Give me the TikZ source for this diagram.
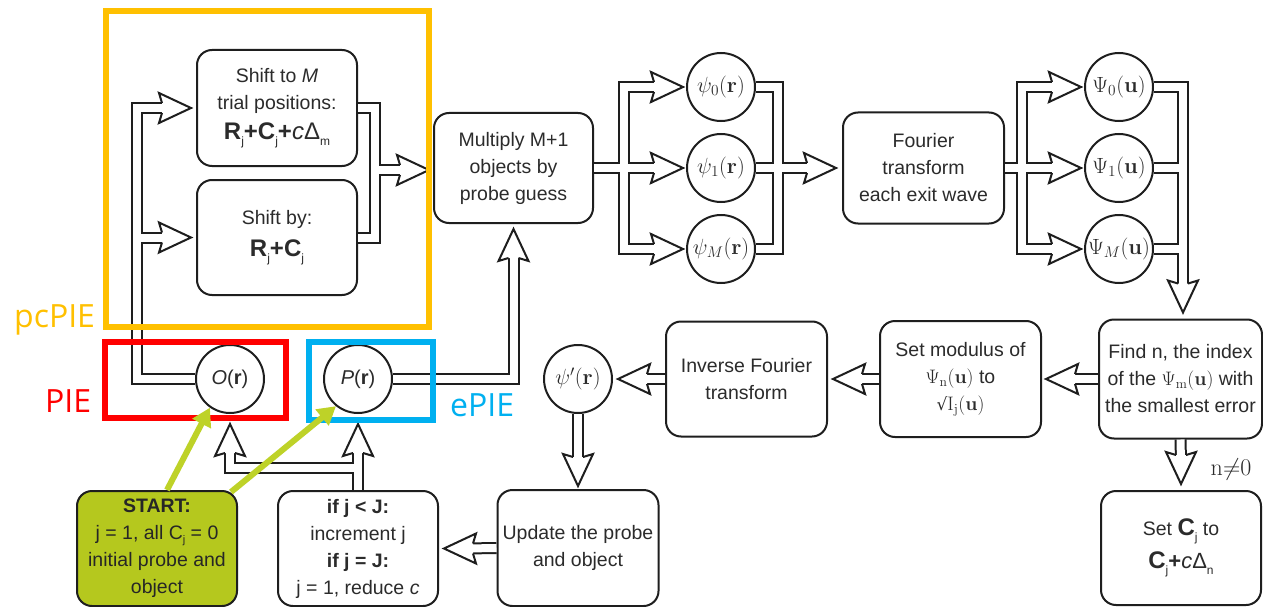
\RequirePackage{fix-cm}
\documentclass[tikz,border=0pt]{standalone}
\usepackage[no-math]{fontspec}
\usepackage{graphicx}
\setmainfont{Liberation Sans}
\newfontfamily\labelfont{Open Sans}
\newfontfamily\surdfont{DejaVu Serif}
\usetikzlibrary{calc,arrows.meta}
\definecolor{ylw}{HTML}{FFC000}
\definecolor{rd}{HTML}{FF0000}
\definecolor{bl}{HTML}{00B0F0}
\definecolor{grnfill}{RGB}{181,200,30}
\definecolor{grnarr}{RGB}{190,210,40}
\definecolor{txt}{HTML}{2B2B2B}
\definecolor{ln}{HTML}{1E1E1E}
\newcommand\pipe[1]{\draw[line width=12pt,ln] #1; \draw[line width=8pt,white] #1;}
\newcommand\subL[1]{\raisebox{-6pt}{\fontsize{12}{12}\selectfont\mdseries\upshape #1}}
\newcommand\subN[1]{\raisebox{-4pt}{\fontsize{11}{11}\selectfont #1}}
\newcommand\bigf{\fontsize{24}{28}\selectfont}
\begin{document}
\begin{tikzpicture}[x=1pt,y=-1pt,
  procbox/.style={draw=ln, line width=2pt, rounded corners=15pt, align=center, text=txt,
    inner sep=0pt, font=\fontsize{19.5}{27}\selectfont, minimum width=160pt, minimum height=115pt},
  ccirc/.style={circle, draw=ln, line width=2pt, minimum size=68pt, inner sep=0pt, text=txt,
    font=\fontsize{20}{24}\selectfont},
  mcirc/.style={ccirc, font=\fontsize{22}{24}\selectfont},
  ahd/.pic={\draw[ln, line width=2pt, fill=white] (-29,5) -- (-32,15) -- (0,0) -- (-32,-15) -- (-29,-5);},
  anframe/.style={line width=6pt},
  lbl/.style={font=\labelfont\fontsize{32}{36}\selectfont, anchor=base west, inner sep=0pt},
  garr/.style={grnarr, line width=6pt, -{Triangle[length=18pt,width=20pt]}}]
\fill[white] (0,0) rectangle (1263,607);
\useasboundingbox (0,0) rectangle (1263,607);

% boxes
\node[procbox, minimum height=116pt] (shiftM) at (277,108) {Shift to \textit{M}\\ trial positions:\\[3pt]
  {\bigf\bfseries R\subL{j}+C\subL{j}+{\mdseries\itshape c}{\mdseries Δ}\subL{m}}};
\node[procbox] (shiftB) at (277,237.5) {Shift by:\\[5pt] {\bigf\bfseries R\subL{j}+C\subL{j}}};
\node[procbox, minimum width=159pt, minimum height=110pt] (mult) at (513.5,168) {Multiply M+1\\ objects by\\ probe guess};
\node[procbox, minimum width=161pt, minimum height=111pt] (four) at (923.5,168) {Fourier\\ transform\\ each exit wave};
\node[procbox, minimum width=163pt, minimum height=119pt] (findn) at (1180.5,379) {Find n, the index\\ of the $\Psi_{\mathrm{m}}(\mathbf{u})$ with\\ the smallest error};
\node[procbox, minimum width=161pt, minimum height=116pt] (setmod) at (960.5,379) {Set modulus of\\ $\Psi_{\mathrm{n}}(\mathbf{u})$ to\\ {\surdfont\fontsize{17}{20}\selectfont √}$\mathrm{I}_{\mathrm{j}}(\mathbf{u})$};
\node[procbox, minimum width=161pt] (invf) at (746.5,379) {Inverse Fourier\\ transform};
\node[procbox, minimum width=161pt, minimum height=116pt] (update) at (578,548) {Update the probe\\ and object};
\node[procbox] (ifbox) at (358,548.5) {\textbf{if j < J:}\\ increment j\\ \textbf{if j = J:}\\ j = 1, reduce \textit{c}};
\node[procbox, fill=grnfill, text=black!85] (start) at (157,548.5) {\textbf{START:}\\ j = 1, all C\subN{j} = 0\\ initial probe and\\ object};
\node[procbox, minimum height=114pt] (setC) at (1181,548) {Set {\bigf\bfseries C}\subL{j} to\\[6pt]
  {\bigf\bfseries C}\subL{j}{\fontsize{22}{26}\selectfont\bfseries +}{\fontsize{22}{26}\selectfont\itshape c}{\fontsize{22}{26}\selectfont Δ}\subL{n}};

% circles
\node[ccirc] (O) at (230,379) {\textit{O}(\textbf{r})};
\node[ccirc] (P) at (358,379) {\textit{P}(\textbf{r})};
\node[mcirc] (psi0) at (721,87) {$\psi_0(\mathbf{r})$};
\node[mcirc] (psi1) at (721,168) {$\psi_1(\mathbf{r})$};
\node[mcirc] (psiM) at (721,249) {$\psi_M(\mathbf{r})$};
\node[mcirc] (Psi0) at (1119,87) {$\Psi_0(\mathbf{u})$};
\node[mcirc] (Psi1) at (1119,168) {$\Psi_1(\mathbf{u})$};
\node[mcirc] (PsiM) at (1119,249) {$\Psi_M(\mathbf{u})$};
\node[mcirc] (psip) at (578,379) {$\psi'(\mathbf{r})$};
\node[text=txt, font=\fontsize{24}{24}\selectfont] (neq) at (1231,469) {$\mathrm{n}{\neq}0$};

% tips and columns
\coordinate (tSM) at ($(shiftM.west)+(-5,0)$);
\coordinate (tSB) at ($(shiftB.west)+(-5,0)$);
\coordinate (tM) at ($(mult.west)+(-4,2)$);
\coordinate (tMS) at ($(mult.south)+(0,5)$);
\coordinate (tO) at ($(O.south)+(0,10)$);
\coordinate (tP) at ($(P.south)+(0,10)$);
\coordinate (tp0) at ($(psi0.west)+(-3,0)$);
\coordinate (tp1) at ($(psi1.west)+(-3,0)$);
\coordinate (tpM) at ($(psiM.west)+(-3,0)$);
\coordinate (tF) at ($(four.west)+(-6,0)$);
\coordinate (tQ0) at ($(Psi0.west)+(-3,0)$);
\coordinate (tQ1) at ($(Psi1.west)+(-3,0)$);
\coordinate (tQM) at ($(PsiM.west)+(-3,0)$);
\coordinate (xA) at (137,0);
\coordinate (xB) at (375,0);
\coordinate (xE) at (623.5,0);
\coordinate (xF) at (778,0);
\coordinate (xG) at (1022,0);
\coordinate (xH) at (1183,0);
\coordinate (jD) at (358,468);
\coordinate (tH) at ($(xH |- findn.north)+(0,-6)$);
\coordinate (tI) at ($(setmod.east)+(4,0)$);
\coordinate (tJ) at ($(invf.east)+(5,0)$);
\coordinate (tK) at ($(psip.east)+(5,0)$);
\coordinate (tL) at ($(update.north)+(0,-3)$);
\coordinate (tMm) at ($(ifbox.east)+(5,0)$);
\coordinate (tN) at ($(setC.north)+(0,-6)$);

% pipes
\pipe{(O.west) -| (xA |- tSM) -- ($(tSM)+(-22,0)$) (xA |- tSB) -- ($(tSB)+(-22,0)$)}
\pipe{(shiftM.east) -| (xB |- shiftB.east) -- (shiftB.east) (xB |- tM) -- ($(tM)+(-22,0)$)}
\pipe{(P.east) -| ($(tMS)+(0,22)$)}
\pipe{(ifbox.north) -- ($(tP)+(0,22)$) (jD) -| ($(tO)+(0,22)$)}
\pipe{(mult.east) -- (xE |- mult.east) ($(tp0)+(-22,0)$) -| (xE |- tpM) -- ($(tpM)+(-22,0)$) (xE |- tp1) -- ($(tp1)+(-22,0)$)}
\pipe{(psi0.east) -| (xF |- psiM.east) -- (psiM.east) (psi1.east) -- ($(tF)+(-22,0)$)}
\pipe{(four.east) -- ($(tQ1)+(-22,0)$) ($(tQ0)+(-22,0)$) -| (xG |- tQM) -- ($(tQM)+(-22,0)$)}
\pipe{(Psi0.east) -| ($(tH)+(0,-22)$) (Psi1.east) -- (xH |- Psi1.east) (PsiM.east) -- (xH |- PsiM.east)}
\pipe{(findn.west) -- ($(tI)+(22,0)$)}
\pipe{(setmod.west) -- ($(tJ)+(22,0)$)}
\pipe{(invf.west) -- ($(tK)+(22,0)$)}
\pipe{(psip.south) -- ($(tL)+(0,-22)$)}
\pipe{(update.west) -- ($(tMm)+(22,0)$)}
\pipe{(findn.south) -- ($(tN)+(0,-22)$)}

% heads
\pic at (tSM) {ahd};
\pic at (tSB) {ahd};
\pic at (tM) {ahd};
\pic[rotate=90] at (tMS) {ahd};
\pic[rotate=90] at (tO) {ahd};
\pic[rotate=90] at (tP) {ahd};
\pic at (tp0) {ahd};
\pic at (tp1) {ahd};
\pic at (tpM) {ahd};
\pic at (tF) {ahd};
\pic at (tQ0) {ahd};
\pic at (tQ1) {ahd};
\pic at (tQM) {ahd};
\pic[rotate=-90] at (tH) {ahd};
\pic[rotate=180] at (tI) {ahd};
\pic[rotate=180] at (tJ) {ahd};
\pic[rotate=180] at (tK) {ahd};
\pic[rotate=-90] at (tL) {ahd};
\pic[rotate=180] at (tMm) {ahd};
\pic[rotate=-90] at (tN) {ahd};

% annotation frames
\draw[ylw, anframe] (106,11) rectangle (429,327);
\draw[rd, anframe] (105,342) rectangle (286,418);
\draw[bl, anframe] (309,342) rectangle (433,420);
\node[lbl, text=ylw] (lpc) at (14,327) {pcPIE};
\node[lbl, text=rd] (lpie) at (45,412) {PIE};
\node[lbl, text=bl] (lepie) at (450,416) {ePIE};

% start arrows
\draw[garr] ($(start.north)+(10,0)$) -- (O.235);
\draw[garr] ($(start.north east)+(-7,2)$) -- (P.231);
\end{tikzpicture}
\end{document}
